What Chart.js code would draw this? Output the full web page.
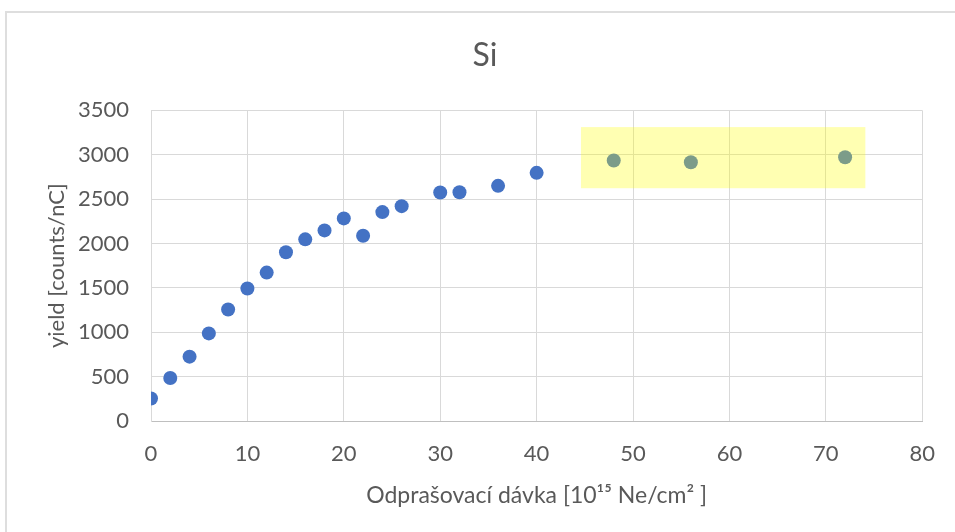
<!DOCTYPE html>
<html lang="cs">
<head>
  <meta charset="utf-8">
  <title>Si</title>
  <script src="https://cdn.jsdelivr.net/npm/chart.js@4.4.0/dist/chart.umd.min.js"></script>
  <style>
    html, body { margin: 0; padding: 0; background: #fff; overflow: hidden; }
    #frame {
      position: absolute; left: 5px; top: 11px; width: 980px; height: 560px;
      border: 2px solid #dedede; box-sizing: border-box;
    }
    #chart { position: absolute; left: 0; top: 0; }
  </style>
</head>
<body>
<div id="frame"></div>
<canvas id="chart" width="955" height="532"></canvas>

<script>
  // dose [10^15 Ne/cm2]
  var dose = [0, 2, 4, 6, 8, 10, 12, 14, 16, 18, 20, 22, 24, 26, 30, 32, 36, 40, 48, 56, 72];
  // yield [counts/nC]
  var yieldValues = [253, 485, 725, 987, 1256, 1493, 1672, 1901, 2047, 2148, 2283, 2088,
                     2354, 2421, 2575, 2578, 2650, 2796, 2935, 2916, 2972];
  // highlighted region: x from, x to, y from, y to
  var highlightX = [44.6, 74.1];
  var highlightY = [2623, 3312];

  var points = dose.map(function (d, i) { return { x: d, y: yieldValues[i] }; });

  var fontFamily = 'Lato, "Open Sans", sans-serif';
  var textColor = '#595959';
  var gridColor = '#d9d9d9';

  var highlightPlugin = {
    id: 'highlight',
    afterDatasetsDraw: function (chart) {
      var xs = chart.scales.x, ys = chart.scales.y, ctx = chart.ctx;
      var x1 = xs.getPixelForValue(highlightX[0]);
      var x2 = xs.getPixelForValue(highlightX[1]);
      var y1 = ys.getPixelForValue(highlightY[1]);
      var y2 = ys.getPixelForValue(highlightY[0]);
      ctx.save();
      ctx.fillStyle = 'rgba(255, 255, 0, 0.3)';
      ctx.fillRect(x1, y1, x2 - x1, y2 - y1);
      ctx.restore();
    }
  };

  function plain(v) { return String(v); }

  var ctx = document.getElementById('chart').getContext('2d');
  new Chart(ctx, {
    type: 'scatter',
    data: {
      datasets: [{
        label: 'Si',
        data: points,
        backgroundColor: '#4472C4',
        borderColor: '#4472C4',
        borderWidth: 0,
        pointRadius: 7,
        pointHoverRadius: 7
      }]
    },
    options: {
      responsive: false,
      animation: false,
      layout: { padding: { left: 47, right: 32, top: 0, bottom: 0 } },
      plugins: {
        legend: { display: false },
        tooltip: { enabled: false },
        title: {
          display: true,
          text: 'Si',
          color: textColor,
          font: { family: fontFamily, size: 32, weight: 'normal' },
          padding: { top: 36, bottom: 36 }
        }
      },
      scales: {
        x: {
          type: 'linear',
          min: 0, max: 80,
          ticks: {
            stepSize: 10,
            color: textColor,
            padding: 20,
            callback: plain,
            font: { family: fontFamily, size: 22 }
          },
          grid: { color: gridColor, lineWidth: 1, drawTicks: false },
          border: { color: '#bfbfbf', width: 1 },
          title: {
            display: true,
            text: 'Odprašovací dávka [10¹⁵ Ne/cm² ]',
            color: textColor,
            font: { family: fontFamily, size: 23, lineHeight: 1.2 },
            padding: { top: 0, bottom: 23 }
          },
          afterFit: function (s) { s.height = 111; }
        },
        y: {
          type: 'linear',
          min: 0, max: 3500,
          ticks: {
            stepSize: 500,
            color: textColor,
            padding: 22,
            callback: plain,
            font: { family: fontFamily, size: 22 }
          },
          grid: { color: gridColor, lineWidth: 1, drawTicks: false },
          border: { color: gridColor, width: 1 },
          title: {
            display: true,
            text: 'yield [counts/nC]',
            color: textColor,
            font: { family: fontFamily, size: 22, lineHeight: 0.9 },
            padding: { top: 0, bottom: 0 }
          },
          afterFit: function (s) { s.width = 104; }
        }
      }
    },
    plugins: [highlightPlugin]
  });
</script>
</body>
</html>
